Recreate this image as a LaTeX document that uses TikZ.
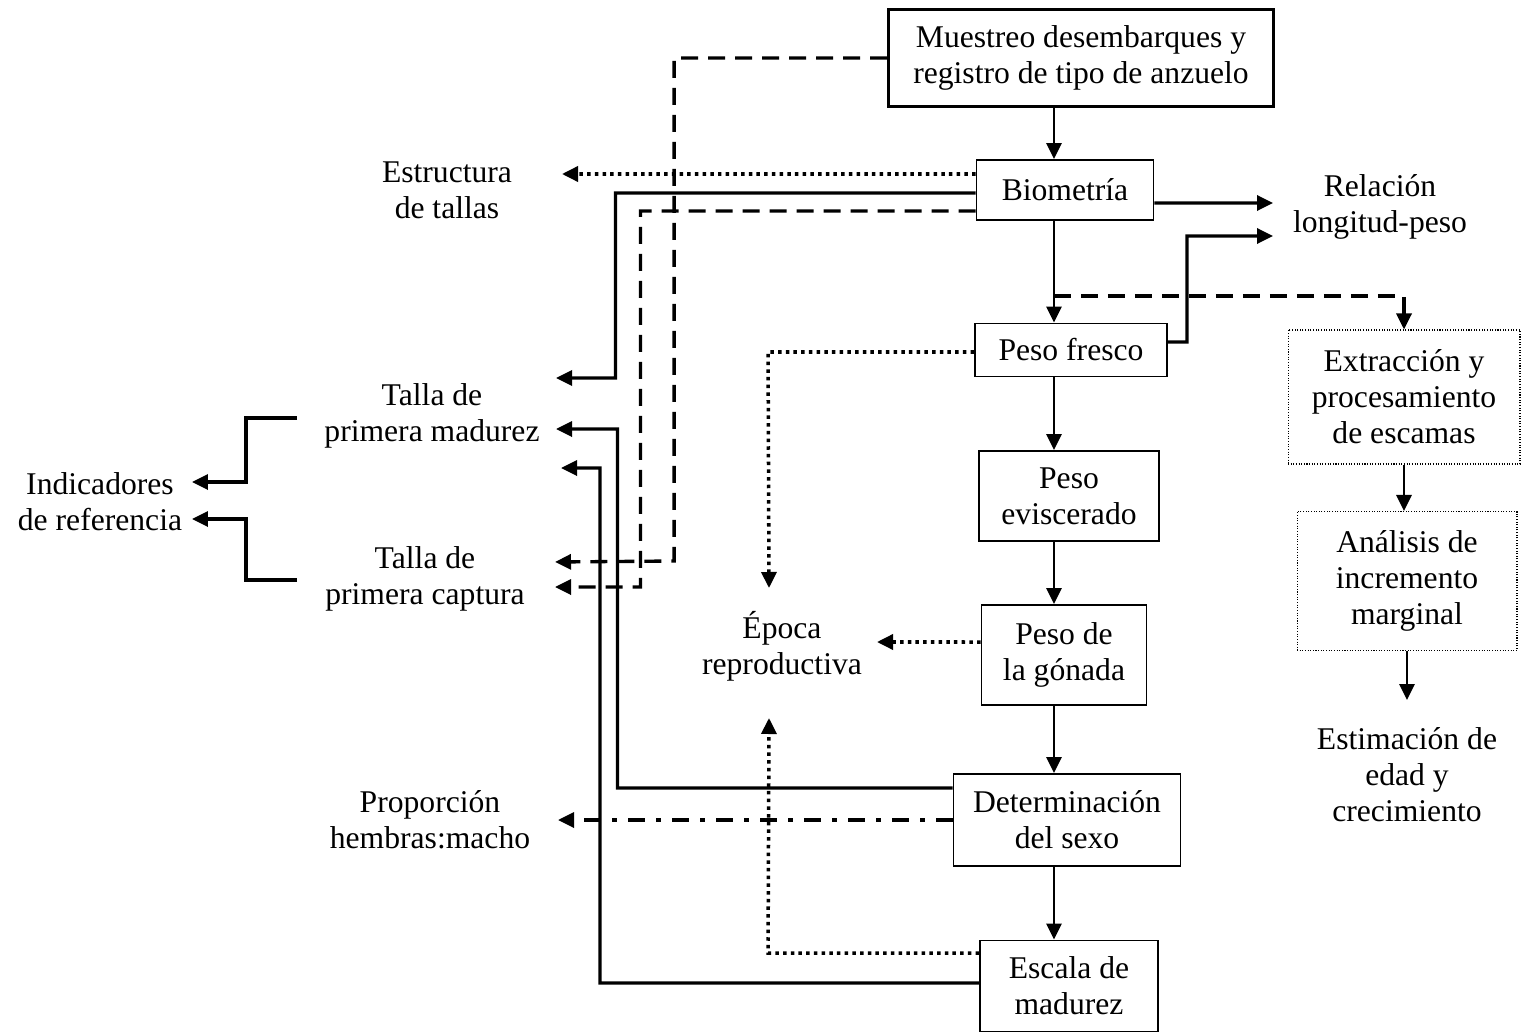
\documentclass[tikz,border=0pt]{standalone}
\usepackage{fontspec}
\setmainfont{Liberation Serif}
\usetikzlibrary{arrows.meta,calc}
\begin{document}
\begin{tikzpicture}[x=0.02cm,y=-0.02cm,
  every node/.style={font=\fontsize{18}{20.5}\selectfont, align=center, inner sep=0pt},
  box/.style={draw, line width=1.1pt},
  bigbox/.style={draw, line width=1.6pt},
  dbox/.style={draw, line width=0.6pt, dash pattern=on 0.6pt off 0.9pt},
  arr/.style={-{Triangle[length=0.32cm,width=0.3cm]}},
  conn/.style={line width=1.9pt},
  vconn/.style={line width=1.6pt},
  dsh/.style={line width=1.9pt, dash pattern=on 0.34cm off 0.2cm},
  dotl/.style={line width=2pt, dash pattern=on 0.07cm off 0.084cm},
  dashdotl/.style={line width=1.9pt, dash pattern=on 0.34cm off 0.22cm on 0.1cm off 0.22cm}
]
\useasboundingbox (0,0) rectangle (1522,1034);

% boxes
\node[bigbox, minimum width=7.7cm, minimum height=1.94cm] (mue) at (1081,58) {Muestreo desembarques y\\registro de tipo de anzuelo};
\node[box, minimum width=3.54cm, minimum height=1.2cm] (bio) at (1065,190) {Biometría};
\node[box, minimum width=3.84cm, minimum height=1.06cm] (pf) at (1071,350) {Peso fresco};
\node[box, minimum width=3.6cm, minimum height=1.8cm] (pe) at (1069,496) {Peso\\eviscerado};
\node[box, minimum width=3.3cm, minimum height=2.0cm] (pg) at (1064,655) {Peso de\\la gónada};
\node[box, minimum width=4.54cm, minimum height=1.84cm] (ds) at (1067,820) {Determinación\\del sexo};
\node[box, minimum width=3.56cm, minimum height=1.82cm] (em) at (1069,986) {Escala de\\madurez};
\node[dbox, minimum width=4.64cm, minimum height=2.68cm] (ext) at (1404,397) {Extracción y\\procesamiento\\de escamas};
\node[dbox, minimum width=4.4cm, minimum height=2.78cm] (ana) at (1407,581) {Análisis de\\incremento\\marginal};

% text nodes
\node (estr) at (447,190) {Estructura\\de tallas};
\node (rel) at (1380,207) {Relación\\longitud-peso};
\node (tpm) at (432,416) {Talla de\\primera madurez};
\node (tpc) at (425,579) {Talla de\\primera captura};
\node (ind) at (100,502) {Indicadores\\de referencia};
\node (epo) at (782,646) {Época\\reproductiva};
\node (prop) at (430,820) {Proporción\\hembras:macho};
\node (est) at (1407,775) {Estimación de\\edad y\\crecimiento};

% helper coordinates
\coordinate (ax) at (1054,0);
\coordinate (split) at (1054,296);
\coordinate (estrIn) at (562,174);
\coordinate (tpmA) at (556,378);
\coordinate (tpmB) at (556,429);
\coordinate (tpmC) at (561,468);
\coordinate (tpcA) at (555,562);
\coordinate (tpcB) at (555,587);
\coordinate (propIn) at (558,820);
\coordinate (epoTop) at (769,588);
\coordinate (epoR) at (877,642);
\coordinate (epoBot) at (769,718);
\coordinate (relA) at (1273,203);
\coordinate (relB) at (1273,236);
\coordinate (estIn) at (1407,700);
\coordinate (tpmL) at (297,418);
\coordinate (tpcL) at (297,580);
\coordinate (indA) at (192,482);
\coordinate (indB) at (192,519);

% main vertical chain
\draw[vconn,arr] (mue.south -| ax) -- (bio.north -| ax);
\draw[vconn,arr] (bio.south -| ax) -- (pf.north -| ax);
\draw[vconn,arr] (pf.south -| ax) -- (pe.north -| ax);
\draw[vconn,arr] (pe.south -| ax) -- (pg.north -| ax);
\draw[vconn,arr] (pg.south -| ax) -- (ds.north -| ax);
\draw[vconn,arr] (ds.south -| ax) -- (em.north -| ax);

% left connectors
\draw[dsh,arr] (mue.west) -- ++(-213,0) -- ++(0,503) -- (tpcA);
\draw[dsh,arr] ([yshift=-0.42cm]bio.west) -- ++(-335,0) -- ++(0,376) -- (tpcB);
\draw[dotl,arr] ([yshift=0.32cm]bio.west) -- (estrIn);
\draw[conn,arr] ([yshift=-0.06cm]bio.west) -- ++(-360,0) -- ++(0,185) -- (tpmA);
\draw[conn,arr] ([yshift=0.64cm]ds.west) -- ++(-335,0) -- ++(0,-359) -- (tpmB);
\draw[conn,arr] ([yshift=0.06cm]em.west) -- ++(-379,0) -- ++(0,-515) -- (tpmC);
\draw[dashdotl,arr] (ds.west) -- (propIn);
\draw[dotl,arr] ([yshift=-0.04cm]pf.west) -- ++(-206,0) -- (epoTop);
\draw[dotl,arr] ([yshift=0.26cm]pg.west) -- (epoR);
\draw[dotl,arr] ([yshift=0.66cm]em.west) -- ++(-211,0) -- (epoBot);

% right connectors
\draw[conn,arr] ([yshift=-0.26cm]bio.east) -- (relA);
\draw[conn,arr] ([yshift=0.16cm]pf.east) -- ++(19,0) -- ++(0,-106) -- (relB);
\draw[dsh,arr] (split) -| (ext.north);
\draw[vconn,arr] (ext.south) -- (ext.south |- ana.north);
\draw[vconn,arr] (ana.south) -- (ana.south |- estIn);

% indicadores
\draw[conn,arr] (tpmL) -- ++(-51,0) -- ++(0,64) -- (indA);
\draw[conn,arr] (tpcL) -- ++(-51,0) -- ++(0,-61) -- (indB);
\end{tikzpicture}
\end{document}
